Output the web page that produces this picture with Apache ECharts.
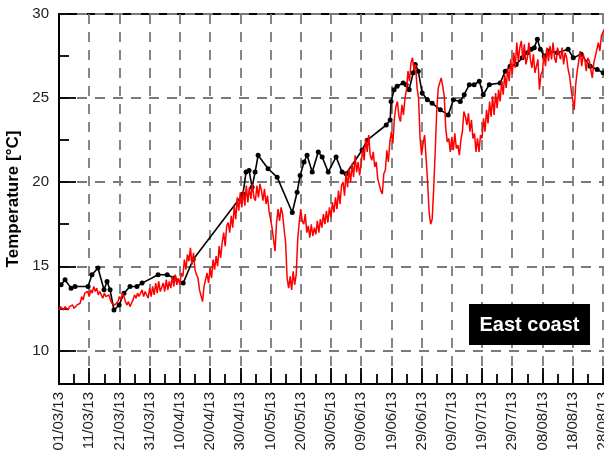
<!DOCTYPE html>
<html>
<head>
<meta charset="utf-8">
<script src="https://cdn.jsdelivr.net/npm/echarts@6/dist/echarts.min.js"></script>
<style>
  html, body { margin: 0; padding: 0; background: #fff; }
  #chart { width: 604px; height: 455px; }
</style>
</head>
<body>
<div id="chart"></div>
<script>
// Date tick labels, one every 10 days starting 01/03/13
const tickLabels = ['01/03/13', '11/03/13', '21/03/13', '31/03/13', '10/04/13', '20/04/13',
  '30/04/13', '10/05/13', '20/05/13', '30/05/13', '09/06/13', '19/06/13', '29/06/13',
  '09/07/13', '19/07/13', '29/07/13', '08/08/13', '18/08/13', '28/08/13'];

// Daily-ish observations (black): day since 01/03/13 and temperature in °C
const obsDays = [0.7, 2.0, 4.0, 5.3, 9.6, 10.9, 12.9, 14.9, 15.9, 16.9, 18.2, 19.9, 21.5, 23.5,
  25.8, 27.5, 32.8, 35.8, 38.1, 41.1, 44.4, 60.9, 61.9, 62.9, 63.9, 64.9, 65.9, 69.2, 72.2,
  77.2, 78.8, 79.8, 81.1, 82.1, 83.8, 85.8, 87.1, 89.1, 91.7, 93.7, 95.0, 100.3, 102.0,
  108.3, 109.6, 109.9, 110.9, 111.9, 113.9, 114.9, 115.9, 117.2, 117.9, 118.9, 120.2, 121.9,
  123.5, 126.2, 128.8, 130.5, 132.8, 134.1, 135.8, 137.4, 139.1, 140.4, 142.4, 146.0, 147.7,
  149.3, 151.3, 153.3, 155.0, 156.3, 157.3, 158.3, 159.3, 160.6, 161.9, 164.9, 168.5, 170.2,
  172.8, 175.8, 178.1, 180.1, 181.5];
const obsTemps = [13.9, 14.2, 13.7, 13.8, 13.8, 14.5, 14.9, 13.6, 14.1, 13.6, 12.4, 12.7, 13.4, 13.8,
  13.8, 14.0, 14.5, 14.5, 14.3, 14.0, 15.4, 19.3, 20.6, 20.7, 19.7, 20.6, 21.6, 20.8, 20.3,
  18.2, 19.4, 20.4, 21.2, 21.6, 20.6, 21.8, 21.5, 20.6, 21.5, 20.6, 20.5, 21.9, 22.5,
  23.4, 23.7, 24.8, 25.5, 25.7, 25.9, 25.8, 25.5, 26.5, 27.0, 26.6, 25.3, 24.9,
  24.7, 24.3, 24.0, 24.9, 24.8, 25.2, 25.8, 25.8, 26.0, 25.2, 25.8, 25.9, 26.6,
  26.9, 27.0, 27.4, 27.7, 27.9, 28.0, 28.5, 27.9, 27.5, 27.8, 27.7, 27.9, 27.4,
  27.6, 26.9, 26.7, 26.5, 26.6];

// Continuous record (red), one value every 12 hours from 01/03/13 00:00
const sampleStepDays = 0.5;
const loggerTemps = [
  12.4, 12.6, 12.5, 12.4, 12.6, 12.5, 12.4, 12.6, 12.5, 12.7, 12.5, 12.6, 12.7, 12.6, 12.8, 13.2, 13.0, 13.4, 13.3, 13.5,
  13.2, 13.6, 13.4, 13.8, 13.5, 13.7, 13.3, 13.5, 13.3, 13.1, 13.4, 13.2, 13.1, 13.3, 13.0, 12.8, 12.9, 12.7, 12.6, 12.9,
  13.2, 13.0, 13.4, 13.2, 12.9, 12.7, 12.9, 12.6, 12.8, 13.0, 13.3, 13.1, 13.4, 13.2, 13.3, 13.6, 13.2, 13.5, 13.4, 13.1,
  13.7, 13.2, 13.8, 13.3, 14.0, 13.4, 14.1, 13.5, 13.4, 14.0, 13.5, 14.2, 13.6, 14.1, 13.7, 14.4, 13.8, 14.5, 13.9, 14.3,
  13.9, 14.6, 14.4, 15.4, 14.8, 15.7, 15.3, 16.1, 15.1, 15.8, 14.8, 14.5, 14.3, 13.6, 13.7, 12.9, 13.8, 14.2, 14.6, 14.0,
  14.9, 14.3, 15.4, 14.8, 15.6, 15.0, 16.2, 15.5, 16.4, 17.0, 16.2, 17.4, 17.6, 17.0, 18.0, 17.3, 18.6, 17.8, 19.1, 18.3,
  19.4, 18.5, 19.5, 18.6, 19.8, 18.8, 19.7, 19.0, 19.9, 19.1, 18.9, 19.8, 19.1, 19.9, 19.5, 18.9, 19.6, 18.7, 19.2, 18.3,
  18.2, 17.3, 16.6, 15.9, 17.6, 18.4, 17.7, 18.5, 18.1, 17.2, 16.4, 14.3, 13.7, 14.4, 13.6, 14.7, 13.9, 14.5, 16.6, 17.6,
  18.4, 17.7, 17.5, 18.1, 17.0, 17.4, 16.7, 17.5, 16.8, 17.3, 16.9, 17.7, 17.0, 17.8, 17.3, 18.1, 17.5, 18.3, 17.6, 18.5,
  17.9, 18.8, 18.2, 19.1, 18.4, 19.5, 18.7, 19.8, 20.0, 19.2, 20.6, 19.7, 20.8, 20.0, 21.1, 20.3, 21.6, 20.6, 21.2, 20.4,
  21.1, 22.0, 21.3, 22.6, 21.8, 22.8, 21.6, 21.3, 21.8, 20.9, 21.2, 20.2, 20.3, 19.5, 19.3, 20.5, 20.7, 21.9, 21.2, 22.4,
  23.0, 22.3, 23.8, 24.5, 24.8, 23.9, 23.6, 24.6, 24.0, 25.0, 25.5, 26.6, 26.0, 27.1, 27.4, 26.7, 27.0, 25.6, 25.0, 22.6,
  21.6, 22.3, 22.8, 21.4, 20.0, 18.2, 17.5, 17.8, 19.6, 21.8, 24.2, 25.6, 25.9, 26.2, 25.7, 25.1, 23.2, 22.4, 22.6, 21.8,
  22.7, 21.9, 22.9, 22.0, 22.2, 21.6, 22.5, 23.0, 24.2, 23.9, 23.4, 24.1, 23.0, 23.7, 22.6, 22.9, 21.8, 22.6, 21.8, 22.8,
  22.6, 23.8, 23.0, 24.3, 23.5, 24.8, 23.9, 25.1, 24.0, 25.3, 24.4, 25.5, 24.8, 26.0, 25.2, 26.4, 25.6, 26.8, 26.0, 27.3,
  26.4, 27.7, 26.8, 28.3, 27.2, 28.0, 28.4, 27.3, 28.2, 27.0, 27.4, 28.3, 27.3, 26.8, 27.6, 26.5, 26.4, 27.3, 25.5, 26.4,
  26.6, 27.6, 26.9, 28.0, 27.2, 28.1, 27.3, 28.3, 27.4, 27.1, 28.0, 27.6, 27.3, 28.0, 27.0, 27.7, 27.4, 26.7, 26.3, 25.5,
  24.9, 24.3, 25.8, 26.6, 27.2, 27.8, 26.9, 27.6, 27.3, 26.6, 27.4, 27.2, 26.7, 26.2, 27.1, 27.5, 27.4, 28.3, 27.8, 28.7,
  28.6, 29.1, 29.3
];

const obsData = obsDays.map((d, i) => [d, obsTemps[i]]);
const loggerData = loggerTemps.map((t, i) => [i * sampleStepDays, t]);

const chart = echarts.init(document.getElementById('chart'), null, { renderer: 'canvas' });

const gridLine = { color: '#7a7a7a', width: 1.8, type: [10, 8] };
const textColor = '#222';
const fontFamily = 'Arial, "Liberation Sans", sans-serif';

chart.setOption({
  animation: false,
  backgroundColor: '#fff',
  // plot runs past the right edge of the canvas; 3.02 px per day
  grid: {
    left: 59, top: 14, bottom: 71, width: 559,
    containLabel: false, outerBoundsMode: 'none',
    show: true, borderColor: '#000', borderWidth: 2, backgroundColor: 'transparent'
  },
  xAxis: {
    type: 'value',
    min: 0, max: 185, interval: 10,
    axisLine: { show: true, lineStyle: { color: '#000', width: 2 } },
    axisTick: { show: true, inside: true, length: 16, lineStyle: { color: '#000', width: 1.8 } },
    minorTick: { show: true, splitNumber: 2, length: 10, lineStyle: { color: '#000', width: 1.8 } },
    splitLine: { show: true, lineStyle: gridLine },
    axisLabel: {
      rotate: 90, margin: 8, color: textColor, fontFamily: fontFamily, fontSize: 15,
      showMaxLabel: false, hideOverlap: false,
      formatter: v => (v % 10 === 0 && v / 10 < tickLabels.length) ? tickLabels[v / 10] : ''
    }
  },
  yAxis: {
    type: 'value',
    min: 8, max: 30, splitNumber: 5,
    name: 'Temperature [°C]',
    nameLocation: 'middle', nameGap: 30,
    nameTextStyle: { color: '#000', fontFamily: fontFamily, fontSize: 17, fontWeight: 'bold' },
    axisLine: { show: true, lineStyle: { color: '#000', width: 2 } },
    axisTick: { show: true, inside: true, length: 17, lineStyle: { color: '#000', width: 1.8 } },
    minorTick: { show: true, splitNumber: 2, length: 10, lineStyle: { color: '#000', width: 1.8 } },
    splitLine: { show: true, lineStyle: gridLine },
    axisLabel: {
      margin: 10, color: textColor, fontFamily: fontFamily, fontSize: 15,
      showMinLabel: false,
      formatter: v => (v % 5 === 0 ? String(v) : '')
    }
  },
  series: [
    {
      type: 'line',
      name: 'Observations',
      data: obsData,
      symbol: 'circle', symbolSize: 5,
      itemStyle: { color: '#000' },
      lineStyle: { color: '#000', width: 1.6 },
      z: 3
    },
    {
      type: 'line',
      name: 'Logger',
      data: loggerData,
      showSymbol: false,
      lineStyle: { color: '#ff0000', width: 1.5 },
      z: 4
    }
  ],
  graphic: [
    {
      type: 'group', left: 469, top: 304, z: 100,
      children: [
        { type: 'rect', z: 100, shape: { x: 0, y: 0, width: 121, height: 41 }, style: { fill: '#000' } },
        {
          type: 'text', z: 101, x: 60.5, y: 21,
          style: {
            text: 'East coast', fill: '#fff', font: 'bold 20px Arial, "Liberation Sans", sans-serif',
            align: 'center', verticalAlign: 'middle'
          }
        }
      ]
    }
  ]
});
</script>
</body>
</html>
